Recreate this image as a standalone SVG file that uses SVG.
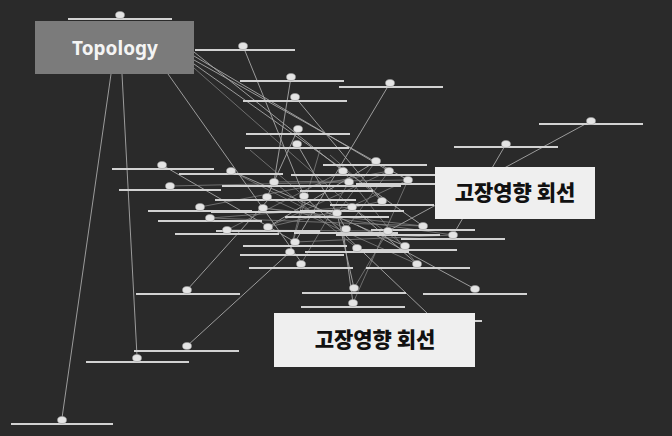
<svg xmlns="http://www.w3.org/2000/svg" width="672" height="436" viewBox="0 0 672 436">
<style>
.bar{stroke:#d2d2d2;stroke-width:2.2}
.nd{fill:#e4e4e4;stroke:#a0a0a0;stroke-width:0.6}
.ln{stroke:#a8a8a8;stroke-width:0.9;fill:none}
.lnf{stroke:#8c8c8c;stroke-width:0.7;fill:none}
.lbl{font-family:"Noto Sans CJK KR","Noto Sans",sans-serif;font-weight:900;font-size:21px;fill:#111;text-anchor:middle}
</style>
<rect width="672" height="436" fill="#2a2a2a"/>
<g id="connectors">
<line class="ln" x1="111" y1="74" x2="62" y2="418"/>
<line class="ln" x1="122" y1="74" x2="137" y2="356"/>
<line class="ln" x1="168" y1="74" x2="301" y2="262"/>
<line class="ln" x1="194" y1="52" x2="343" y2="171"/>
<line class="ln" x1="194" y1="56" x2="389" y2="171"/>
<line class="ln" x1="194" y1="60" x2="408" y2="180"/>
<line class="ln" x1="194" y1="64" x2="423" y2="226"/>
<line class="lnf" x1="194" y1="68" x2="352" y2="207"/>
<line class="ln" x1="243" y1="46" x2="304" y2="196"/>
<line class="ln" x1="291" y1="77" x2="274" y2="182"/>
<line class="ln" x1="295" y1="97" x2="382" y2="201"/>
<line class="ln" x1="297" y1="144" x2="346" y2="229"/>
<line class="ln" x1="298" y1="129" x2="267" y2="197"/>
<line class="ln" x1="390" y1="83" x2="295" y2="242"/>
<line class="ln" x1="591" y1="121" x2="388" y2="231"/>
<line class="ln" x1="506" y1="144" x2="453" y2="235"/>
<line class="ln" x1="375" y1="162" x2="268" y2="227"/>
<line class="ln" x1="187" y1="346" x2="290" y2="252"/>
<line class="ln" x1="187" y1="290" x2="268" y2="200"/>
<line class="ln" x1="427" y1="313" x2="304" y2="196"/>
<line class="ln" x1="475" y1="289" x2="357" y2="225"/>
<line class="ln" x1="354" y1="288" x2="337" y2="213"/>
<line class="ln" x1="353" y1="303" x2="343" y2="230"/>
<line class="ln" x1="417" y1="264" x2="352" y2="207"/>
<line class="ln" x1="162" y1="165" x2="295" y2="242"/>
<line class="ln" x1="231" y1="171" x2="405" y2="246"/>
<line class="lnf" x1="170" y1="186" x2="349" y2="182"/>
<line class="lnf" x1="200" y1="207" x2="389" y2="171"/>
<line class="lnf" x1="210" y1="218" x2="423" y2="226"/>
<line class="lnf" x1="227" y1="230" x2="343" y2="171"/>
<line class="lnf" x1="263" y1="208" x2="453" y2="235"/>
<line class="lnf" x1="274" y1="182" x2="357" y2="248"/>
<line class="lnf" x1="267" y1="197" x2="417" y2="264"/>
<line class="lnf" x1="304" y1="196" x2="290" y2="252"/>
<line class="lnf" x1="337" y1="213" x2="408" y2="180"/>
<line class="lnf" x1="349" y1="182" x2="301" y2="264"/>
<line class="lnf" x1="389" y1="171" x2="346" y2="229"/>
<line class="lnf" x1="382" y1="201" x2="268" y2="227"/>
<line class="lnf" x1="352" y1="207" x2="405" y2="246"/>
<line class="lnf" x1="388" y1="231" x2="354" y2="288"/>
<line class="lnf" x1="408" y1="180" x2="353" y2="303"/>
<line class="lnf" x1="343" y1="171" x2="417" y2="264"/>
<line class="lnf" x1="376" y1="161" x2="337" y2="213"/>
<line class="lnf" x1="320" y1="150" x2="290" y2="252"/>
<line class="lnf" x1="330" y1="155" x2="382" y2="201"/>
<line class="lnf" x1="250" y1="150" x2="304" y2="196"/>
<line class="lnf" x1="263" y1="208" x2="423" y2="226"/>
<line class="lnf" x1="210" y1="218" x2="352" y2="207"/>
<line class="lnf" x1="227" y1="230" x2="388" y2="231"/>
<line class="lnf" x1="295" y1="242" x2="453" y2="235"/>
<line class="lnf" x1="268" y1="227" x2="389" y2="171"/>
<line class="lnf" x1="231" y1="171" x2="346" y2="229"/>
<line class="lnf" x1="274" y1="182" x2="408" y2="180"/>
</g>
<g id="bars">
<line class="bar" x1="68" y1="19" x2="172" y2="19"/>
<line class="bar" x1="195" y1="50" x2="295" y2="50"/>
<line class="bar" x1="240" y1="81" x2="344" y2="81"/>
<line class="bar" x1="243" y1="101" x2="347" y2="101"/>
<line class="bar" x1="246" y1="134" x2="350" y2="134"/>
<line class="bar" x1="245" y1="148" x2="349" y2="148"/>
<line class="bar" x1="339" y1="87" x2="443" y2="87"/>
<line class="bar" x1="539" y1="124" x2="643" y2="124"/>
<line class="bar" x1="454" y1="147" x2="558" y2="147"/>
<line class="bar" x1="323" y1="165" x2="427" y2="165"/>
<line class="bar" x1="112" y1="169" x2="214" y2="169"/>
<line class="bar" x1="179" y1="174" x2="283" y2="174"/>
<line class="bar" x1="119" y1="190" x2="221" y2="190"/>
<line class="bar" x1="222" y1="186" x2="326" y2="186"/>
<line class="bar" x1="215" y1="200" x2="319" y2="200"/>
<line class="bar" x1="252" y1="200" x2="356" y2="200"/>
<line class="bar" x1="148" y1="211" x2="252" y2="211"/>
<line class="bar" x1="211" y1="212" x2="315" y2="212"/>
<line class="bar" x1="158" y1="221" x2="262" y2="221"/>
<line class="bar" x1="216" y1="231" x2="320" y2="231"/>
<line class="bar" x1="175" y1="234" x2="279" y2="234"/>
<line class="bar" x1="243" y1="246" x2="347" y2="246"/>
<line class="bar" x1="240" y1="255" x2="344" y2="255"/>
<line class="bar" x1="249" y1="268" x2="353" y2="268"/>
<line class="bar" x1="285" y1="217" x2="389" y2="217"/>
<line class="bar" x1="291" y1="175" x2="395" y2="175"/>
<line class="bar" x1="337" y1="175" x2="441" y2="175"/>
<line class="bar" x1="297" y1="186" x2="401" y2="186"/>
<line class="bar" x1="356" y1="184" x2="435" y2="184"/>
<line class="bar" x1="300" y1="191" x2="373" y2="191"/>
<line class="bar" x1="330" y1="205" x2="434" y2="205"/>
<line class="bar" x1="300" y1="211" x2="404" y2="211"/>
<line class="bar" x1="371" y1="230" x2="475" y2="230"/>
<line class="bar" x1="294" y1="233" x2="398" y2="233"/>
<line class="bar" x1="336" y1="235" x2="440" y2="235"/>
<line class="bar" x1="401" y1="239" x2="505" y2="239"/>
<line class="bar" x1="305" y1="252" x2="409" y2="252"/>
<line class="bar" x1="353" y1="250" x2="457" y2="250"/>
<line class="bar" x1="366" y1="268" x2="470" y2="268"/>
<line class="bar" x1="423" y1="294" x2="527" y2="294"/>
<line class="bar" x1="302" y1="293" x2="406" y2="293"/>
<line class="bar" x1="301" y1="307" x2="405" y2="307"/>
<line class="bar" x1="440" y1="321" x2="482" y2="321"/>
<line class="bar" x1="136" y1="294" x2="240" y2="294"/>
<line class="bar" x1="134" y1="351" x2="239" y2="351"/>
<line class="bar" x1="86" y1="362" x2="189" y2="362"/>
<line class="bar" x1="11" y1="424" x2="113" y2="424"/>
</g>
<g id="nodes">
<ellipse id="n1" class="nd" cx="120" cy="15" rx="4.5" ry="3.5"/>
<ellipse id="n2" class="nd" cx="243" cy="46" rx="4.5" ry="3.5"/>
<ellipse id="n3" class="nd" cx="291" cy="77" rx="4.5" ry="3.5"/>
<ellipse id="n4" class="nd" cx="295" cy="97" rx="4.5" ry="3.5"/>
<ellipse id="n5" class="nd" cx="298" cy="129" rx="4.5" ry="3.5"/>
<ellipse id="n6" class="nd" cx="297" cy="144" rx="4.5" ry="3.5"/>
<ellipse id="n7" class="nd" cx="390" cy="83" rx="4.5" ry="3.5"/>
<ellipse id="n8" class="nd" cx="591" cy="121" rx="4.5" ry="3.5"/>
<ellipse id="n9" class="nd" cx="506" cy="144" rx="4.5" ry="3.5"/>
<ellipse id="n10" class="nd" cx="376" cy="161" rx="4.5" ry="3.5"/>
<ellipse id="n11" class="nd" cx="162" cy="165" rx="4.5" ry="3.5"/>
<ellipse id="n12" class="nd" cx="231" cy="171" rx="4.5" ry="3.5"/>
<ellipse id="n13" class="nd" cx="170" cy="186" rx="4.5" ry="3.5"/>
<ellipse id="n14" class="nd" cx="274" cy="182" rx="4.5" ry="3.5"/>
<ellipse id="n15" class="nd" cx="267" cy="197" rx="4.5" ry="3.5"/>
<ellipse id="n16" class="nd" cx="304" cy="196" rx="4.5" ry="3.5"/>
<ellipse id="n17" class="nd" cx="200" cy="207" rx="4.5" ry="3.5"/>
<ellipse id="n18" class="nd" cx="263" cy="208" rx="4.5" ry="3.5"/>
<ellipse id="n19" class="nd" cx="210" cy="218" rx="4.5" ry="3.5"/>
<ellipse id="n20" class="nd" cx="268" cy="227" rx="4.5" ry="3.5"/>
<ellipse id="n21" class="nd" cx="227" cy="230" rx="4.5" ry="3.5"/>
<ellipse id="n22" class="nd" cx="295" cy="242" rx="4.5" ry="3.5"/>
<ellipse id="n23" class="nd" cx="290" cy="252" rx="4.5" ry="3.5"/>
<ellipse id="n24" class="nd" cx="337" cy="213" rx="4.5" ry="3.5"/>
<ellipse id="n25" class="nd" cx="343" cy="171" rx="4.5" ry="3.5"/>
<ellipse id="n26" class="nd" cx="389" cy="171" rx="4.5" ry="3.5"/>
<ellipse id="n27" class="nd" cx="349" cy="182" rx="4.5" ry="3.5"/>
<ellipse id="n28" class="nd" cx="408" cy="180" rx="4.5" ry="3.5"/>
<ellipse id="n29" class="nd" cx="382" cy="201" rx="4.5" ry="3.5"/>
<ellipse id="n30" class="nd" cx="352" cy="207" rx="4.5" ry="3.5"/>
<ellipse id="n31" class="nd" cx="423" cy="226" rx="4.5" ry="3.5"/>
<ellipse id="n32" class="nd" cx="346" cy="229" rx="4.5" ry="3.5"/>
<ellipse id="n33" class="nd" cx="388" cy="231" rx="4.5" ry="3.5"/>
<ellipse id="n34" class="nd" cx="453" cy="235" rx="4.5" ry="3.5"/>
<ellipse id="n35" class="nd" cx="357" cy="248" rx="4.5" ry="3.5"/>
<ellipse id="n36" class="nd" cx="405" cy="246" rx="4.5" ry="3.5"/>
<ellipse id="n37" class="nd" cx="417" cy="264" rx="4.5" ry="3.5"/>
<ellipse id="n38" class="nd" cx="475" cy="289" rx="4.5" ry="3.5"/>
<ellipse id="n39" class="nd" cx="354" cy="288" rx="4.5" ry="3.5"/>
<ellipse id="n40" class="nd" cx="353" cy="303" rx="4.5" ry="3.5"/>
<ellipse id="n41" class="nd" cx="301" cy="264" rx="4.5" ry="3.5"/>
<ellipse id="n42" class="nd" cx="187" cy="290" rx="4.5" ry="3.5"/>
<ellipse id="n43" class="nd" cx="187" cy="346" rx="4.5" ry="3.5"/>
<ellipse id="n44" class="nd" cx="137" cy="358" rx="4.5" ry="3.5"/>
<ellipse id="n45" class="nd" cx="62" cy="420" rx="4.5" ry="3.5"/>
</g>
<g id="topology">
<rect x="35" y="21" width="159" height="53" fill="#7b7b7b"/>
<text x="115" y="55" font-family="Noto Sans, sans-serif" font-weight="bold" font-size="19" fill="#f4f4f4" text-anchor="middle">Topology</text>
</g>
<g id="label-1">
<rect x="435" y="167" width="160" height="52" fill="#efefef"/>
<text class="lbl" x="515" y="200">고장영향 회선</text>
</g>
<g id="label-2">
<rect x="274" y="313" width="201" height="54" fill="#efefef"/>
<text class="lbl" x="375" y="347">고장영향 회선</text>
</g>
</svg>
